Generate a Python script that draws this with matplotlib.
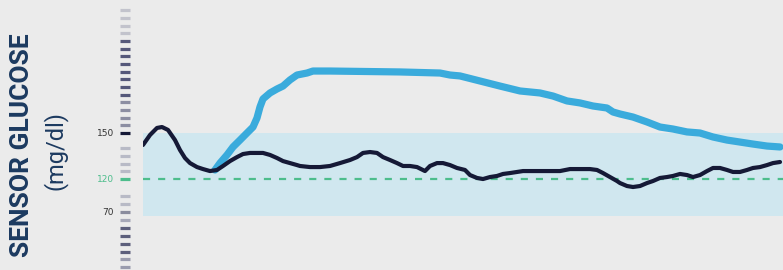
import numpy as np
import matplotlib
matplotlib.use("Agg")
import matplotlib.pyplot as plt
from matplotlib.transforms import blended_transform_factory
from matplotlib.lines import Line2D

# ---------------- data ----------------
# time index (relative units along the x axis)
t_sensor = [0, 7, 14, 19, 25, 32, 37, 42, 47, 54, 60, 67, 74, 80, 87, 94, 100, 107, 114,
            120, 127, 134, 140, 147, 154, 157, 167, 177, 187, 197, 207, 214, 220, 227,
            234, 240, 247, 254, 260, 267, 274, 282, 287, 294, 300, 307, 314, 322, 327,
            334, 340, 347, 354, 360, 367, 374, 380, 397, 417, 427, 447, 454, 460, 467,
            474, 477, 484, 490, 497, 504, 510, 517, 524, 530, 537, 544, 550, 557, 564,
            570, 577, 584, 590, 597, 604, 610, 617, 624, 630, 637]
glucose_with = [142.2, 148.7, 153.3, 153.9, 152.0, 145.4, 138.9, 133.7, 130.4, 127.8, 126.5,
                125.2, 125.9, 128.5, 131.7, 134.3, 136.3, 137.0, 137.0, 137.0, 135.7, 133.7,
                131.7, 130.4, 129.1, 128.5, 127.8, 127.8, 128.5, 130.4, 132.4, 134.3, 137.0,
                137.6, 137.0, 134.3, 132.4, 130.4, 128.5, 128.5, 127.8, 125.2, 128.5, 130.4,
                130.4, 129.1, 127.2, 125.9, 122.6, 120.7, 120.0, 121.3, 122.0, 123.3, 123.9,
                124.6, 125.2, 125.2, 125.2, 126.5, 126.5, 125.9, 123.9, 121.3, 117.0, 113.9,
                109.4, 107.9, 109.4, 113.9, 117.0, 120.7, 121.3, 122.0, 123.3, 122.6, 121.3,
                122.6, 125.2, 127.2, 127.2, 125.9, 124.6, 124.6, 125.9, 127.2, 127.8, 129.1,
                130.4, 131.1]

t_without = [72, 77, 84, 90, 97, 104, 110, 114, 117, 120, 127, 134, 140, 147, 154, 164, 170,
             187, 257, 297, 307, 317, 337, 357, 377, 397, 410, 424, 437, 450, 464, 470, 477,
             490, 504, 517, 530, 544, 557, 570, 584, 597, 610, 624, 637]
glucose_without = [125.9, 130.4, 135.7, 140.9, 145.4, 150.0, 153.9, 159.8, 167.0, 172.2, 176.1,
                   178.7, 180.6, 184.6, 187.8, 189.1, 190.4, 190.4, 189.8, 189.1, 187.8, 187.2,
                   183.9, 180.6, 177.4, 176.1, 174.1, 170.9, 169.6, 167.6, 166.3, 163.7, 162.4,
                   160.4, 157.2, 153.9, 152.6, 150.7, 150.0, 147.4, 145.4, 144.1, 142.8, 141.5,
                   140.9]

target = 120
range_low, range_high = 64, 150
tick_values = [150, 120, 70]
tick_labels = ["150", "120", "70"]

# ---------------- style ----------------
NAVY = "#151936"
BLUE = "#3aabdc"
GREEN = "#4dbd8c"
BAND = "#d0e7ef"
BG = "#ebebeb"
TITLE = "#1c3a60"

K = 0.43  # compression of the scale below the target value


def fwd(v):
    v = np.asarray(v, dtype=float)
    return np.where(v >= target, v, target + (v - target) * K)


def inv(u):
    u = np.asarray(u, dtype=float)
    return np.where(u >= target, u, target + (u - target) / K)


W, H, DPI = 783, 270, 100
fig = plt.figure(figsize=(W / DPI, H / DPI), dpi=DPI, facecolor=BG)
ax = fig.add_axes([143 / W, 0, (W - 143) / W, 1])
ax.set_facecolor(BG)
ax.set_yscale("function", functions=(fwd, inv))

ax.axhspan(range_low, range_high, color=BAND, lw=0, zorder=0)
ax.axhline(target, color=GREEN, lw=1.6, ls=(0, (3.2, 3.6)), zorder=1)

ax.plot(t_without, glucose_without, color=BLUE, lw=5.2, solid_capstyle="round",
        solid_joinstyle="round", zorder=3)
ax.plot(t_sensor, glucose_with, color=NAVY, lw=3.0, solid_capstyle="round",
        solid_joinstyle="round", zorder=4)

ax.set_xlim(0, 640)
ax.set_ylim(float(inv(60.7)), 236.7)

for s in ["top", "right", "bottom", "left"]:
    ax.spines[s].set_visible(False)
ax.set_xticks([])
ax.set_yticks([])

# tick column drawn at a fixed horizontal position in figure pixels
trans = blended_transform_factory(fig.dpi_scale_trans, ax.transData)
x0, x1 = 120 / DPI, 130 / DPI


def tick(v, color):
    fig.add_artist(Line2D([x0, x1], [v, v], transform=trans, color=color, lw=2.3,
                          solid_capstyle="butt"))


minor_u = list(np.arange(125, 145, 5)) + list(np.arange(155, 235, 5)) + \
    [98.5 + 5.15 * n for n in (2, 1, -1, -2, -3, -4, -5, -6, -7)]
for u in minor_u:
    if u > 212:
        c = "#c2c3cc"
    elif u > 172:
        c = "#55587a"
    elif u > 150:
        c = "#8c8ea2"
    elif u > 100:
        c = "#b8bac6"
    elif u > 90:
        c = "#a6a8b8"
    elif u > 70:
        c = "#5c5f7c"
    else:
        c = "#9a9cae"
    tick(float(inv(u)), c)

label_colors = ["#333333", GREEN, "#333333"]
mark_colors = [NAVY, GREEN, "#8a8c9e"]
for v, lab, lc, mc in zip(tick_values, tick_labels, label_colors, mark_colors):
    tick(v, mc)
    fig.text(114 / DPI, v, lab, transform=trans, ha="right", va="center",
             fontsize=6.5, color=lc)

fig.text(22 / W, 1 - 145 / H, "SENSOR GLUCOSE", rotation=90, ha="center", va="center",
         fontsize=19, fontweight="bold", color=TITLE, family="Roboto")
fig.text(55 / W, 1 - 151 / H, "(mg/dl)", rotation=90, ha="center", va="center",
         fontsize=17, color=TITLE, family="Roboto")

fig.savefig("out.png", dpi=DPI, facecolor=BG)
